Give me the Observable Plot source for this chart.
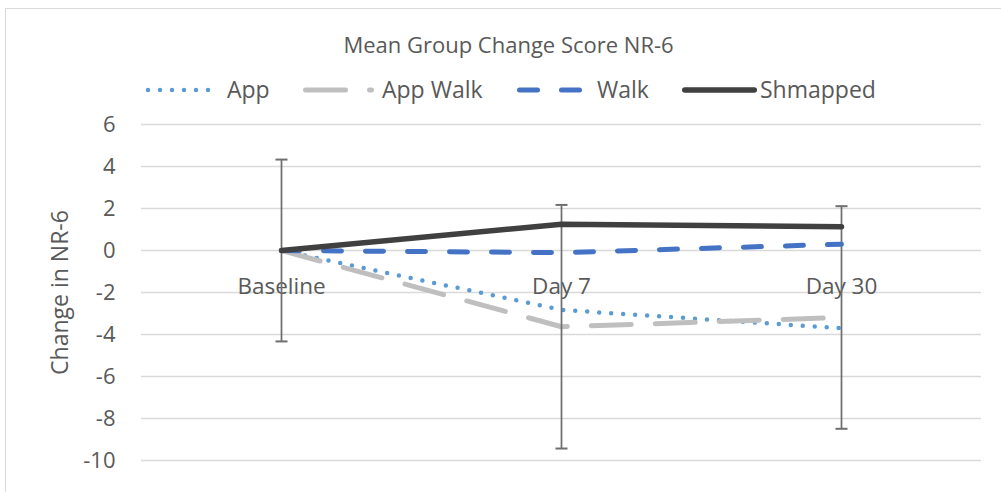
<!DOCTYPE html>
<html>
<head>
<meta charset="utf-8">
<script src="https://cdn.jsdelivr.net/npm/d3@7"></script>
<script src="https://cdn.jsdelivr.net/npm/@observablehq/plot@0.6"></script>
<style>
  html, body { margin: 0; padding: 0; background: #fff; }
  #wrap { position: relative; width: 1001px; height: 492px; overflow: hidden; font-family: "Open Sans", sans-serif; }
  #chart { position: absolute; left: 0; top: 0; }
  #overlay { position: absolute; left: 0; top: 0; }
  #frame { position: absolute; left: 5px; top: 8px; width: 1100px; height: 600px; border: 1.5px solid #D9D9D9; pointer-events: none; }
</style>
</head>
<body>
<div id="wrap">
  <div id="chart"></div>
  <svg id="overlay" width="1001" height="492"></svg>
  <div id="frame"></div>
</div>
<script>
// ---- data ----
const categories = ["Baseline", "Day 7", "Day 30"];
const seriesNames = ["App", "App Walk", "Walk", "Shmapped"];
const appValues = [0, -2.83, -3.7];
const appWalkValues = [0, -3.63, -3.19];
const walkValues = [0, -0.1, 0.3];
const shmappedValues = [0, 1.25, 1.13];
const appWalkErr = [4.33, 5.8, 5.3];
const yTicks = [-10, -8, -6, -4, -2, 0, 2, 4, 6];
const chartTitle = "Mean Group Change Score NR-6";
const yLabel = "Change in NR-6";

// ---- styles ----
const styles = {
  "App": {stroke: "#5B9BD5", strokeWidth: 4.5, dash: "0 12"},
  "App Walk": {stroke: "#BFBFBF", strokeWidth: 5, dash: "40 24"},
  "Walk": {stroke: "#4472C4", strokeWidth: 5, dash: "18 24"},
  "Shmapped": {stroke: "#404040", strokeWidth: 5.5, dash: null}
};
const textColor = "#595959";
const font = "'Open Sans', sans-serif";

const rows = categories.map((c, i) => ({
  cat: c, App: appValues[i], AppWalk: appWalkValues[i], Walk: walkValues[i], Shmapped: shmappedValues[i], err: appWalkErr[i]
}));

const capSymbol = { draw(ctx) { ctx.moveTo(-6, 0); ctx.lineTo(6, 0); } };

function lineMark(name, key) {
  const s = styles[name];
  return Plot.line(rows, {
    x: "cat", y: key, stroke: s.stroke, strokeWidth: s.strokeWidth,
    strokeDasharray: s.dash || undefined, strokeLinecap: "round", strokeLinejoin: "round"
  });
}

const errColor = "#6F6F6F";
const plot = Plot.plot({
  width: 1001, height: 492,
  marginTop: 124, marginBottom: 32, marginLeft: 141, marginRight: 20,
  style: {background: "transparent", color: textColor, fontFamily: font},
  x: {type: "point", domain: categories, padding: 0.5, axis: null},
  y: {domain: [-10, 6], label: null},
  marks: [
    Plot.ruleY(yTicks, {stroke: "#D9D9D9", strokeWidth: 1.5}),
    Plot.axisY(yTicks, {tickSize: 0, tickPadding: 26, fontSize: 22, tickFormat: d => String(d), label: null}),
    Plot.text([yLabel], {frameAnchor: "left", text: d => d, rotate: -90, dx: -74, lineAnchor: "bottom", textAnchor: "middle", fontSize: 23, fill: textColor}),
    Plot.text(rows, {x: "cat", y: () => 0, text: "cat", dy: 43, lineAnchor: "bottom", textAnchor: "middle", fontSize: 22.5, fill: textColor}),
    lineMark("App", "App"),
    lineMark("App Walk", "AppWalk"),
    Plot.ruleX(rows, {x: "cat", y1: d => d.AppWalk - d.err, y2: d => d.AppWalk + d.err, stroke: errColor, strokeWidth: 1.75}),
    Plot.dot(rows, {x: "cat", y: d => d.AppWalk + d.err, symbol: capSymbol, r: 6, stroke: errColor, strokeWidth: 2, fill: "none"}),
    Plot.dot(rows, {x: "cat", y: d => d.AppWalk - d.err, symbol: capSymbol, r: 6, stroke: errColor, strokeWidth: 2, fill: "none"}),
    lineMark("Walk", "Walk"),
    lineMark("Shmapped", "Shmapped")
  ]
});
document.getElementById("chart").appendChild(plot);

// ---- title & legend ----
const svg = d3.select("#overlay").style("font-family", font);
svg.append("text").attr("x", 508.5).attr("y", 53).attr("text-anchor", "middle")
  .attr("font-size", 22).attr("fill", textColor).text(chartTitle);

const legendLayout = [
  {x1: 148, x2: 218, tx: 227},
  {x1: 305.5, x2: 371.5, tx: 382},
  {x1: 519.5, x2: 583.5, tx: 597},
  {x1: 684.75, x2: 754.25, tx: 760}
];
seriesNames.forEach((name, i) => {
  const s = styles[name], L = legendLayout[i];
  svg.append("line").attr("x1", L.x1).attr("x2", L.x2).attr("y1", 90).attr("y2", 90)
    .attr("stroke", s.stroke).attr("stroke-width", s.strokeWidth)
    .attr("stroke-dasharray", s.dash).attr("stroke-linecap", "round");
  svg.append("text").attr("x", L.tx).attr("y", 97.5).attr("font-size", 23)
    .attr("fill", textColor).text(name);
});
</script>
</body>
</html>
